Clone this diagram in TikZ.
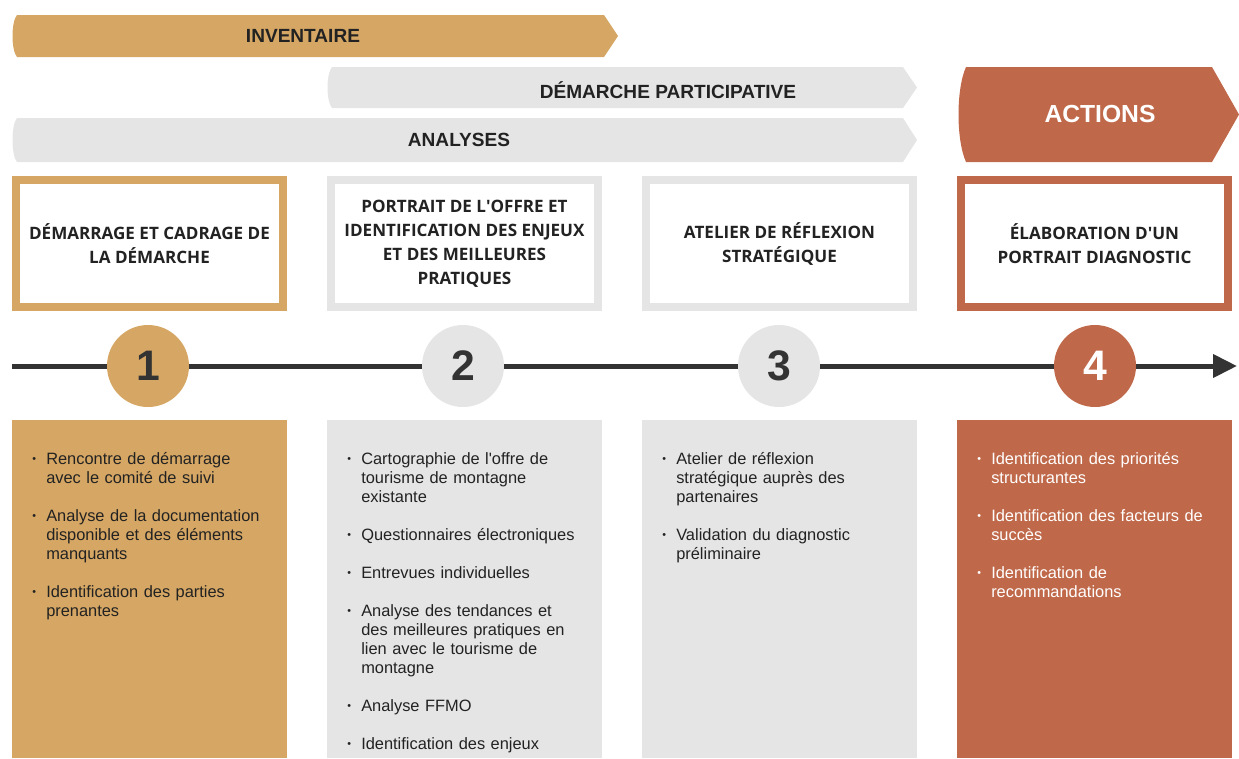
\documentclass[tikz,border=0pt]{standalone}
\usepackage{fontspec}
\setmainfont{Liberation Sans}
\newfontfamily\headfont{Open Sans}
\usepackage{xcolor}
\usepackage{tikz}
\usetikzlibrary{arrows.meta,positioning,calc}

\definecolor{gold}{HTML}{D6A764}
\definecolor{pale}{HTML}{E5E5E5}
\definecolor{rust}{HTML}{C0694A}
\definecolor{ink}{HTML}{222222}
\definecolor{rail}{HTML}{333333}

\newcommand{\itemfont}{\fontsize{12.3}{14.25}\selectfont\setlength{\parskip}{14.25pt}}
\newcommand{\brk}{\hfil\break}
\newcommand{\bul}[1]{\par\hangindent=10.5pt\hangafter=1\noindent\hbox to 10.5pt{\raisebox{1pt}{\footnotesize\textbullet}\hfil}#1\par}

\begin{document}
\begin{tikzpicture}[x=0.75pt, y=-0.75pt, >=Latex,
  bantext/.style={inner sep=0pt, text=ink, font=\fontsize{14.3}{16}\selectfont\bfseries},
  headbox/.style={draw, fill=white, line width=6pt, minimum width=200.25pt, minimum height=95.25pt,
    inner sep=0pt, align=center, text=ink, font=\headfont\fontsize{12.8}{18}\selectfont\bfseries},
  stepdot/.style={circle, minimum size=61.5pt, inner sep=0pt, text=rail,
    font=\fontsize{32}{32}\selectfont\bfseries},
  itemlist/.style={anchor=north west, inner sep=0pt, text width=190pt, text=ink, font=\itemfont},
  timeline/.style={line width=3.75pt, draw=rail}]
  \useasboundingbox (0,0) rectangle (1239,758);
  % phase banners
  \fill[gold] (17,15) -- (604,15) -- (618,36) -- (604,57) -- (17,57) .. controls (11,50) and (11,22) .. (17,15) -- cycle;
  \fill[pale] (332,67) -- (903,67) -- (917,87.5) -- (903,108) -- (332,108) .. controls (326,101) and (326,74) .. (332,67) -- cycle;
  \fill[pale] (17,118) -- (903,118) -- (917,140) -- (903,162) -- (17,162) .. controls (11,155) and (11,125) .. (17,118) -- cycle;
  \fill[rust] (966,67) -- (1212,67) -- (1239,114.5) -- (1212,162) -- (966,162) .. controls (956,140) and (956,89) .. (966,67) -- cycle;
  \node[bantext] (inv) at (303,36) {INVENTAIRE};
  \node[bantext] (part) at (668,90) {DÉMARCHE PARTICIPATIVE};
  \node[bantext] (ana) at (459,140) {ANALYSES};
  \node[bantext, text=white, font=\fontsize{18.5}{20}\selectfont\bfseries] (act) at (1100,114) {ACTIONS};
  % step titles
  \node[headbox, draw=gold] (b1) at (149.5,243.5) {DÉMARRAGE ET CADRAGE DE\\LA DÉMARCHE};
  \node[headbox, draw=pale] (b2) at (464.5,243.5) {PORTRAIT DE L\textquotesingle OFFRE ET\\IDENTIFICATION DES ENJEUX\\ET DES MEILLEURES\\PRATIQUES};
  \node[headbox, draw=pale] (b3) at (779.5,243.5) {ATELIER DE RÉFLEXION\\STRATÉGIQUE};
  \node[headbox, draw=rust] (b4) at (1094.5,243.5) {ÉLABORATION D\textquotesingle UN\\PORTRAIT DIAGNOSTIC};
  % timeline
  \node[stepdot, fill=gold] (n1) at (148,366) {1};
  \node[stepdot, fill=pale] (n2) at (463,366) {2};
  \node[stepdot, fill=pale] (n3) at (779,366) {3};
  \node[stepdot, fill=rust, text=white] (n4) at (1095,366) {4};
  \coordinate (t0) at (12,366);
  \coordinate (t5) at (1237,366);
  \draw[timeline, -{Triangle[length=18pt, width=17pt]}] (t0) -- (n1) -- (n2) -- (n3) -- (n4) -- (t5);
  % task panels
  \fill[gold] (12,420) rectangle (287,758);
  \fill[pale] (327,420) rectangle (602,758);
  \fill[pale] (642,420) rectangle (917,758);
  \fill[rust] (957,420) rectangle (1232,758);
  \node[itemlist] (l1) at (32,426) {%
    \bul{Rencontre de démarrage\brk avec le comité de suivi}
    \bul{Analyse de la documentation\brk disponible et des éléments\brk manquants}
    \bul{Identification des parties\brk prenantes}};
  \node[itemlist] (l2) at (347,426) {%
    \bul{Cartographie de l\textquotesingle offre de\brk tourisme de montagne\brk existante}
    \bul{Questionnaires électroniques}
    \bul{Entrevues individuelles}
    \bul{Analyse des tendances et\brk des meilleures pratiques en\brk lien avec le tourisme de\brk montagne}
    \bul{Analyse FFMO}
    \bul{Identification des enjeux}};
  \node[itemlist] (l3) at (662,426) {%
    \bul{Atelier de réflexion\brk stratégique auprès des\brk partenaires}
    \bul{Validation du diagnostic\brk préliminaire}};
  \node[itemlist, text=white] (l4) at (977,426) {%
    \bul{Identification des priorités\brk structurantes}
    \bul{Identification des facteurs de\brk succès}
    \bul{Identification de\brk recommandations}};
\end{tikzpicture}
\end{document}
